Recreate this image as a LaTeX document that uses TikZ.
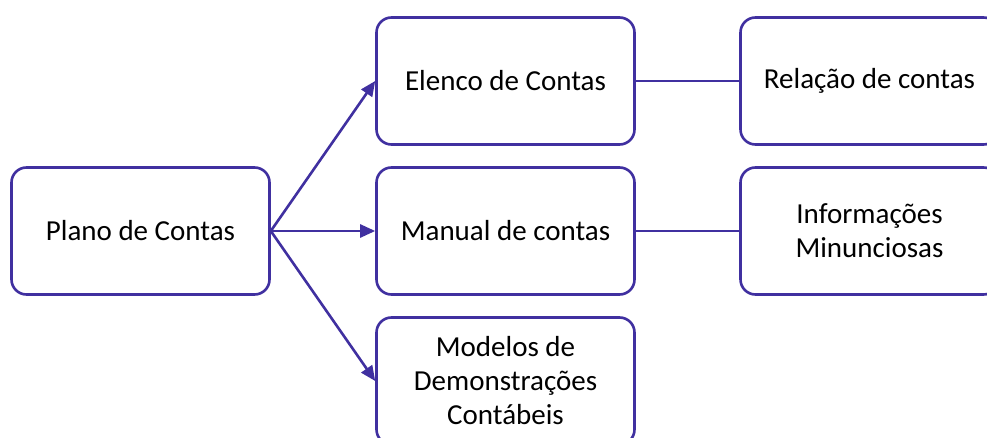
\documentclass[tikz,border=0pt]{standalone}
\usepackage{fontspec}
\setmainfont{Carlito}
\usetikzlibrary{arrows.meta}
\definecolor{ln}{RGB}{64,48,160}
\tikzset{
  box/.style={draw=ln, line width=2.6pt, rounded corners=15pt, fill=white,
    minimum width=258pt, minimum height=127pt, inner sep=0pt, align=center,
    font=\fontsize{29}{34}\selectfont},
  arr/.style={draw=ln, line width=2.6pt, -{Triangle[length=15pt,width=13pt]}},
  lnk/.style={draw=ln, line width=2.6pt}
}
\begin{document}
\begin{tikzpicture}[x=1pt,y=-1pt]
\useasboundingbox (0,0) rectangle (987,438);
\clip (0,0) rectangle (987,438);
\node[box] (plano) at (140.5,231) {Plano de Contas};
\node[box] (elenco) at (505.5,81) {Elenco de Contas};
\node[box] (manual) at (505.5,231) {Manual de contas};
\node[box] (modelos) at (505.5,381) {Modelos de\\Demonstrações\\Contábeis};
\node[box] (relacao) at (869.5,81) {Relação de contas};
\node[box] (info) at (869.5,231) {Informações\\Minunciosas};
\draw[arr] (plano.east) -- (elenco.west);
\draw[arr] (plano.east) -- (manual.west);
\draw[arr] (plano.east) -- (modelos.west);
\draw[lnk] (elenco.east) -- (relacao.west);
\draw[lnk] (manual.east) -- (info.west);
\end{tikzpicture}
\end{document}
